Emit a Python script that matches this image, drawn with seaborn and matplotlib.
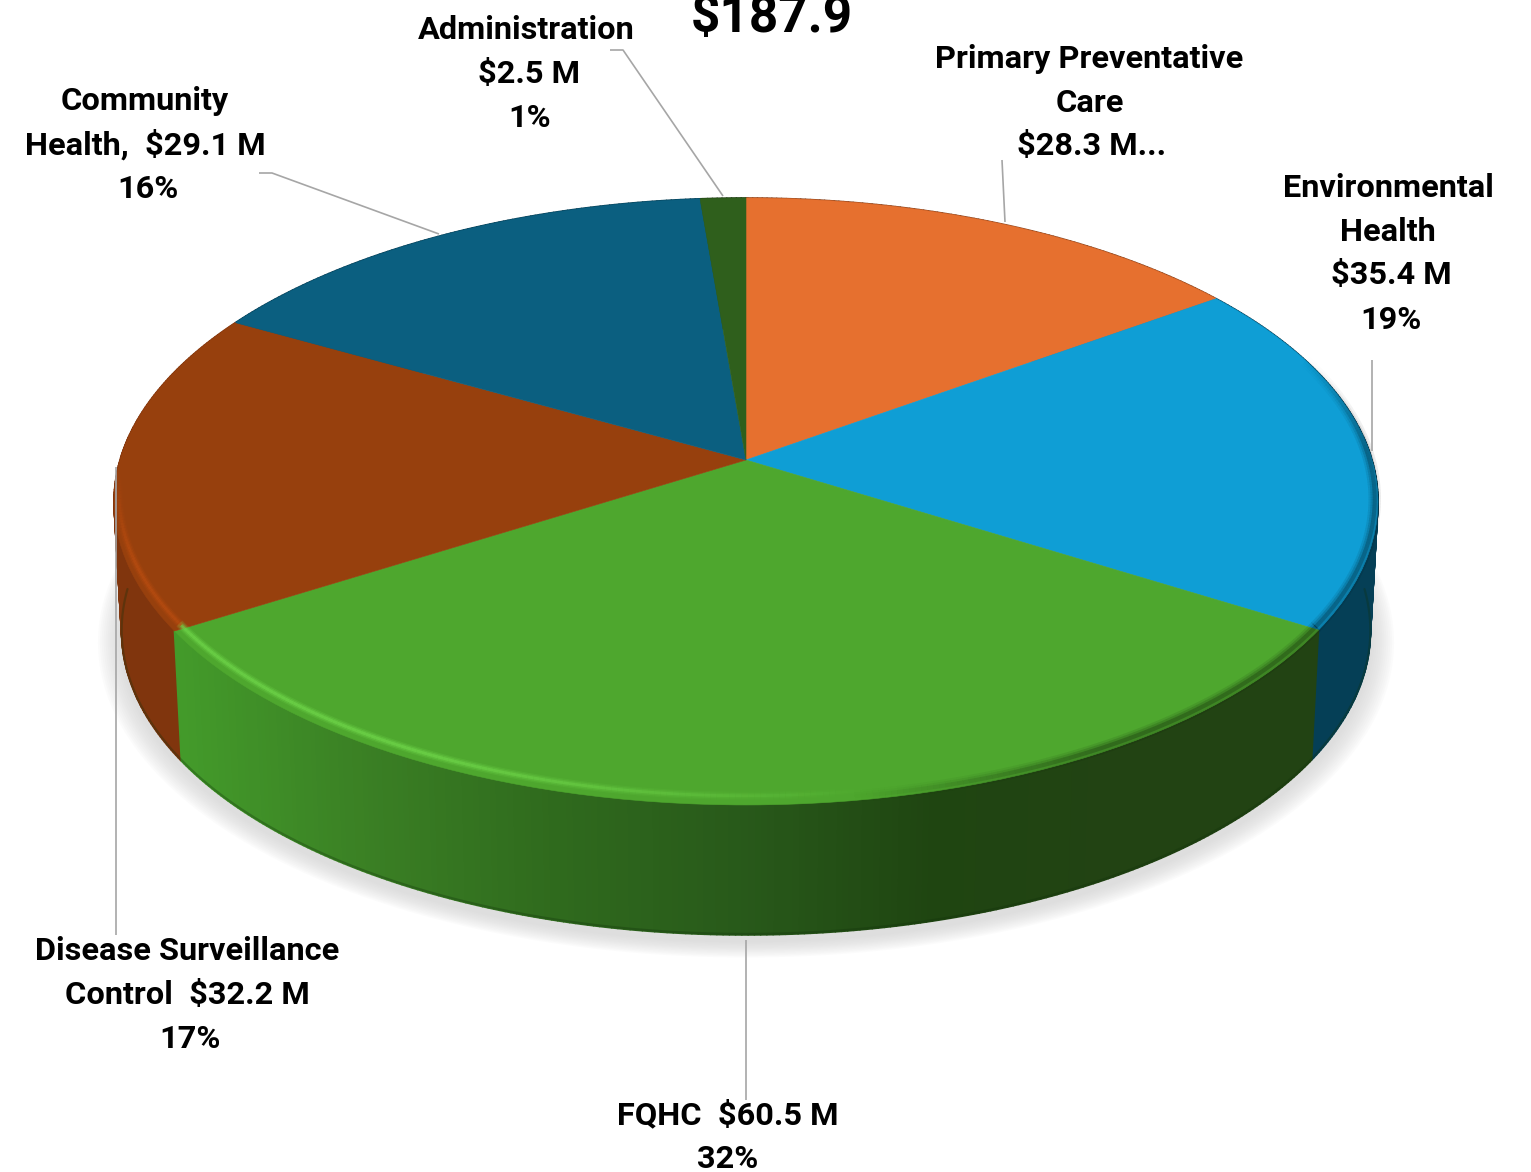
import numpy as np
import matplotlib
matplotlib.use('Agg')
import matplotlib.pyplot as plt
from matplotlib.collections import LineCollection, PolyCollection
from matplotlib.colors import to_rgb
from matplotlib.transforms import Transform
import seaborn as sns

categories = ['Primary Preventative Care', 'Environmental Health', 'FQHC',
              'Disease Surveillance Control', 'Community Health', 'Administration']
values = [28.3, 35.4, 60.5, 32.2, 29.1, 2.5]
top_colors = ['#E6702F', '#0F9ED5', '#4EA72E', '#97400D', '#0B5F80', '#2F5F1C']
wall_colors = ['#8a421b', '#053f56', '#2c5f1b', '#80350d', '#053f56', '#1c3a10']
green_wall = ['#439a2a', '#3a7f24', '#2f6a1d', '#28591a', '#1f4511', '#224313', '#224313']
highlight_colors = ['#f08a4f', '#3fb5e5', '#6fd64a', '#b84c10', '#2a7fa5', '#4a8030']

total_label = '$187.9'
label_lines = [
    ['Primary Preventative', 'Care', '$28.3 M...'],
    ['Environmental', 'Health', '$35.4 M', '19%'],
    ['FQHC  $60.5 M', '32%'],
    ['Disease Surveillance', 'Control  $32.2 M', '17%'],
    ['Community', 'Health,  $29.1 M', '16%'],
    ['Administration', '$2.5 M', '1%'],
]
label_x = [[1089, 1090, 1092], [1388, 1388, 1391, 1391], [728, 728],
           [187, 187, 190], [145, 145, 148], [526, 529, 530]]
label_y = [[59, 103, 146], [188, 232, 275, 320], [1115, 1159],
           [951, 995, 1039], [101, 145, 189], [30, 74, 118]]
leaders = [
    [(1002, 160), (1005, 222)],
    [(1372, 360), (1372, 451)],
    [(746, 940), (746, 1100)],
    [(116, 467), (116, 935)],
    [(259, 173), (272, 173), (439, 234)],
    [(610, 50), (623, 50), (723, 196)],
]

# tilt of the pie in picture pixels
CX, CY = 746, 460
A, B, K = 626, 297.8, 0.1367
DEPTH = 130
SHRINK = 0.988


def project(u, v):
    d = 1 + K * v
    return CX + A * u / d, CY - B * v / d


class PieProjection(Transform):
    input_dims = 2
    output_dims = 2

    def transform_non_affine(self, xy):
        xy = np.asarray(xy)
        x, y = project(xy[:, 0], xy[:, 1])
        return np.column_stack([x, y])


def rim(theta, r=1.0):
    t = np.radians(theta)
    return project(r * np.cos(t), r * np.sin(t))


def stroke(px, py, color, fade, widths):
    segs = [[(px[j], py[j]), (px[j + 1], py[j + 1])] for j in range(len(px) - 1)]
    rgba = np.tile(to_rgb(color) + (1.0,), (len(segs), 1))
    for lw, strength in widths:
        rgba[:, 3] = fade * strength
        ax.add_collection(LineCollection(segs, colors=rgba.copy(), linewidths=lw,
                                         capstyle='butt', zorder=6))


sns.set_theme(style='white')
plt.rcParams['font.family'] = ['Roboto', 'DejaVu Sans']

fig = plt.figure(figsize=(15.31, 11.72), dpi=100)
ax = fig.add_axes([0, 0, 1, 1])

wedges, _ = ax.pie(values, colors=top_colors, startangle=90, counterclock=False,
                   wedgeprops={'linewidth': 0.4})
ax.set_aspect('auto')
ax.set_xlim(0, 1531)
ax.set_ylim(1172, 0)
ax.axis('off')

projection = PieProjection()
for w, c in zip(wedges, top_colors):
    w.set_transform(projection + ax.transData)
    w.set_edgecolor(c)
    w.set_zorder(5)

# soft shadow under the pie
all_theta = np.linspace(0, 360, 361)
sx, sy = rim(all_theta)
sx = CX + (sx - CX) * SHRINK
sy = sy + DEPTH
for grow in np.arange(24, 0, -2):
    k = 1 + grow / 632
    ax.fill(CX + (sx - CX) * k, 500 + (sy - 500) * k + 6, color='#c4c4c4',
            alpha=0.055, lw=0, zorder=1)

# side wall, back to front
green_shades = sns.blend_palette(green_wall, n_colors=256)
green_x = np.linspace(185, 1310, 256)
quads, quad_colors, quad_v = [], [], []
for i, w in enumerate(wedges):
    steps = np.arange(w.theta1, w.theta2 + 0.5, 0.5)
    steps[-1] = w.theta2
    for t0, t1 in zip(steps[:-1], steps[1:]):
        x0, y0 = rim(t0)
        x1, y1 = rim(t1)
        quads.append([(x0, y0), (x1, y1),
                      (CX + (x1 - CX) * SHRINK, y1 + DEPTH),
                      (CX + (x0 - CX) * SHRINK, y0 + DEPTH)])
        if categories[i] == 'FQHC':
            j = np.searchsorted(green_x, (x0 + x1) / 2).clip(0, 255)
            quad_colors.append(green_shades[j])
        else:
            quad_colors.append(to_rgb(wall_colors[i]))
        quad_v.append(np.sin(np.radians((t0 + t1) / 2)))
order = np.argsort(quad_v)[::-1]
ax.add_collection(PolyCollection([quads[j] for j in order],
                                 facecolors=[quad_colors[j] for j in order],
                                 edgecolors=[quad_colors[j] for j in order],
                                 linewidths=1.2, zorder=3))

# bevel along the edge of the top face
for i, w in enumerate(wedges):
    steps = np.arange(w.theta1, w.theta2 + 0.5, 0.5)
    px, py = rim(steps, 0.992)
    py = py - 6
    fade = np.clip((880 - px[:-1]) / 450, 0, 1) * np.clip((py[:-1] - 470) / 90, 0, 1)
    stroke(px, py, highlight_colors[i], fade, [(6, 0.2), (4, 0.35), (2, 0.6)])
    dx, dy = rim(steps, 0.995)
    dy = dy - 2
    dark = np.clip((dx[:-1] - 850) / 250, 0, 1) * np.clip((dy[:-1] - 360) / 90, 0, 1)
    stroke(dx, dy, '#000000', dark, [(9, 0.08), (6, 0.12), (3, 0.2)])

# darker lip at the bottom of the wall
front = np.linspace(180, 360, 361)
fx, fy = rim(front)
ax.plot(CX + (fx - CX) * SHRINK, fy + DEPTH - 1, color='#10300a', alpha=0.3, lw=1.6, zorder=4)

# leader lines
for pts in leaders:
    lx, ly = zip(*pts)
    ax.plot(lx, ly, color='#a6a6a6', lw=1.2, zorder=7, solid_capstyle='butt')

for lines, xs, ys in zip(label_lines, label_x, label_y):
    for line, x, y in zip(lines, xs, ys):
        ax.text(x, y, line, ha='center', va='center', fontsize=23.4, fontweight='bold',
                color='black', zorder=8)
ax.text(772, 18, total_label, ha='center', va='center', fontsize=37, fontweight='bold',
        color='black', zorder=8, clip_on=False)

plt.savefig('out.png', dpi=100, facecolor='white')
